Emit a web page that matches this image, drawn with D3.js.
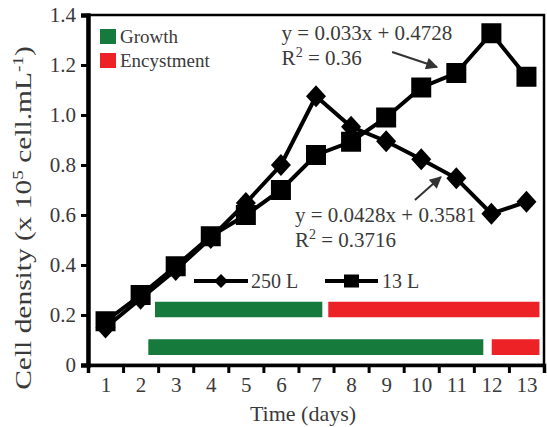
<!DOCTYPE html>
<html>
<head>
<meta charset="utf-8">
<title>Cell density</title>
<style>
  body { margin: 0; background: #fff; }
  svg text { font-family: "Liberation Serif", "Times New Roman", serif; fill: #3a3a3a; }
</style>
<script src="https://d3js.org/d3.v7.min.js"></script>
</head>
<body>
<div id="chart"></div>
<script>
// data
var days = [1, 2, 3, 4, 5, 6, 7, 8, 9, 10, 11, 12, 13];
var vol250 = [0.15, 0.265, 0.38, 0.508, 0.648, 0.80, 1.075, 0.953, 0.895, 0.823, 0.747, 0.605, 0.653];
var vol13  = [0.175, 0.28, 0.395, 0.515, 0.60, 0.70, 0.84, 0.893, 0.99, 1.11, 1.168, 1.327, 1.153];
var yTicks = [0, 0.2, 0.4, 0.6, 0.8, 1.0, 1.2, 1.4];

// growth / encystment phases (in days), row 0 = upper bar, row 1 = lower bar
var phaseRow   = [0, 0, 1, 1];
var phaseName  = ["Growth", "Encystment", "Growth", "Encystment"];
var phaseStart = [2.41, 7.35, 2.22, 12.01];
var phaseEnd   = [7.18, 13.37, 11.77, 13.37];

var W = 547, H = 427;
var margin = {left: 88, right: 3, top: 15, bottom: 62};

var svg = d3.select("#chart").append("svg")
    .attr("width", W).attr("height", H);

var x = d3.scaleLinear().domain([0.5, 13.5]).range([margin.left, W - margin.right]);
var y = d3.scaleLinear().domain([0, 1.4]).range([H - margin.bottom, margin.top]);

var green = "#167a3d", red = "#ec2227";

// phase bars
var rowTop = [0.253, 0.103], rowBot = [0.191, 0.04];
svg.append("g").selectAll("rect")
    .data(phaseRow)
    .enter().append("rect")
    .attr("x", (r, i) => x(phaseStart[i]))
    .attr("width", (r, i) => x(phaseEnd[i]) - x(phaseStart[i]))
    .attr("y", r => y(rowTop[r]))
    .attr("height", r => y(rowBot[r]) - y(rowTop[r]))
    .attr("fill", (r, i) => phaseName[i] == "Growth" ? green : red);

// frame
svg.append("rect")
    .attr("x", x(0.5)).attr("y", y(1.4))
    .attr("width", x(13.5) - x(0.5)).attr("height", y(0) - y(1.4))
    .attr("fill", "none").attr("stroke", "#000").attr("stroke-width", 2.5);

// y axis
var yAxis = d3.axisLeft(y).tickValues(yTicks).tickSize(7).tickPadding(5)
    .tickFormat(d => d === 0 ? "0" : d.toFixed(1));
var gy = svg.append("g").attr("transform", "translate(" + x(0.5) + ",0)").call(yAxis);
gy.select(".domain").attr("stroke-width", 4.5);
gy.selectAll(".tick line").attr("stroke-width", 3);
gy.selectAll("text").style("font-size", "21px");

// x axis: ticks at band edges, labels at day centres
var xEdges = d3.range(0.5, 14, 1);
var gx = svg.append("g").attr("transform", "translate(0," + y(0) + ")")
    .call(d3.axisBottom(x).tickValues(xEdges).tickSize(8).tickFormat(""));
gx.select(".domain").attr("stroke-width", 3.5);
gx.selectAll(".tick line").attr("stroke-width", 3);
var gxl = svg.append("g").attr("transform", "translate(0," + y(0) + ")")
    .call(d3.axisBottom(x).tickValues(days).tickSize(0).tickPadding(12).tickFormat(d3.format("d")));
gxl.select(".domain").remove();
gxl.selectAll("text").style("font-size", "21px");

// series lines
var line = d3.line().x((d, i) => x(days[i])).y(d => y(d));
svg.append("path").datum(vol250).attr("d", line)
    .attr("fill", "none").attr("stroke", "#000").attr("stroke-width", 4);
svg.append("path").datum(vol13).attr("d", line)
    .attr("fill", "none").attr("stroke", "#000").attr("stroke-width", 4);

// markers
svg.append("g").selectAll("rect")
    .data(vol13).enter().append("rect")
    .attr("x", (d, i) => x(days[i]) - 10).attr("y", d => y(d) - 10)
    .attr("width", 20).attr("height", 20).attr("fill", "#000");
svg.append("g").selectAll("path")
    .data(vol250).enter().append("path")
    .attr("transform", (d, i) => "translate(" + x(days[i]) + "," + y(d) + ")")
    .attr("d", "M0,-11L10,0L0,11L-10,0Z").attr("fill", "#000");

// regression annotations
var eqs = [
  {t: "y = 0.033x + 0.4728", r: "0.36", day: 6.02, val: 1.30},
  {t: "y = 0.0428x + 0.3581", r: "0.3716", day: 6.4, val: 0.572}
];
eqs.forEach(function(e) {
  svg.append("text").attr("x", x(e.day)).attr("y", y(e.val))
      .style("font-size", "21px").text(e.t);
  var r2 = svg.append("text").attr("x", x(e.day)).attr("y", y(e.val) + 25)
      .style("font-size", "21px");
  r2.append("tspan").text("R");
  r2.append("tspan").attr("dy", -8).style("font-size", "14px").text("2");
  r2.append("tspan").attr("dy", 8).text(" = " + e.r);
});

svg.append("defs").append("marker")
    .attr("id", "ah").attr("viewBox", "0 0 10 10").attr("refX", 9).attr("refY", 5)
    .attr("markerWidth", 7).attr("markerHeight", 6).attr("orient", "auto")
    .append("path").attr("d", "M0,0L10,5L0,10Z").attr("fill", "#333");
var arrows = [[9.17, 1.252, 10.45, 1.192], [9.82, 0.66, 10.56, 0.752]];
svg.append("g").selectAll("line").data(arrows).enter().append("line")
    .attr("x1", d => x(d[0])).attr("y1", d => y(d[1]))
    .attr("x2", d => x(d[2])).attr("y2", d => y(d[3]))
    .attr("stroke", "#333").attr("stroke-width", 2)
    .attr("marker-end", "url(#ah)");

// phase legend (top left)
var phLeg = svg.append("g").attr("transform", "translate(100,29)");
[["Growth", green], ["Encystment", red]].forEach(function(p, i) {
  phLeg.append("rect").attr("x", 0).attr("y", i * 24).attr("width", 16).attr("height", 15).attr("fill", p[1]);
  phLeg.append("text").attr("x", 20).attr("y", i * 24 + 14).style("font-size", "19px").text(p[0]);
});

// series legend
var sLeg = svg.append("g").attr("transform", "translate(0,281)");
sLeg.append("line").attr("x1", 194).attr("x2", 248).attr("stroke", "#000").attr("stroke-width", 4);
sLeg.append("path").attr("transform", "translate(221,0)").attr("d", "M0,-7L7,0L0,7L-7,0Z").attr("fill", "#000");
sLeg.append("text").attr("x", 251).attr("y", 7).style("font-size", "20px").text("250 L");
sLeg.append("line").attr("x1", 325).attr("x2", 378).attr("stroke", "#000").attr("stroke-width", 4);
sLeg.append("rect").attr("x", 344).attr("y", -6.5).attr("width", 15).attr("height", 13).attr("fill", "#000");
sLeg.append("text").attr("x", 382).attr("y", 7).style("font-size", "20px").text("13 L");

// axis titles
svg.append("text").attr("x", 303).attr("y", 421).attr("text-anchor", "middle")
    .style("font-size", "22px").text("Time (days)");

var yt = svg.append("text").attr("text-anchor", "middle")
    .attr("transform", "translate(31,218) rotate(-90) scale(1.28,1)")
    .style("font-size", "23px");
yt.append("tspan").text("Cell density (x 10");
yt.append("tspan").attr("dy", -8).style("font-size", "15px").text("5");
yt.append("tspan").attr("dy", 8).text(" cell.mL");
yt.append("tspan").attr("dy", -8).style("font-size", "15px").text("-1");
yt.append("tspan").attr("dy", 8).text(")");
</script>
</body>
</html>
